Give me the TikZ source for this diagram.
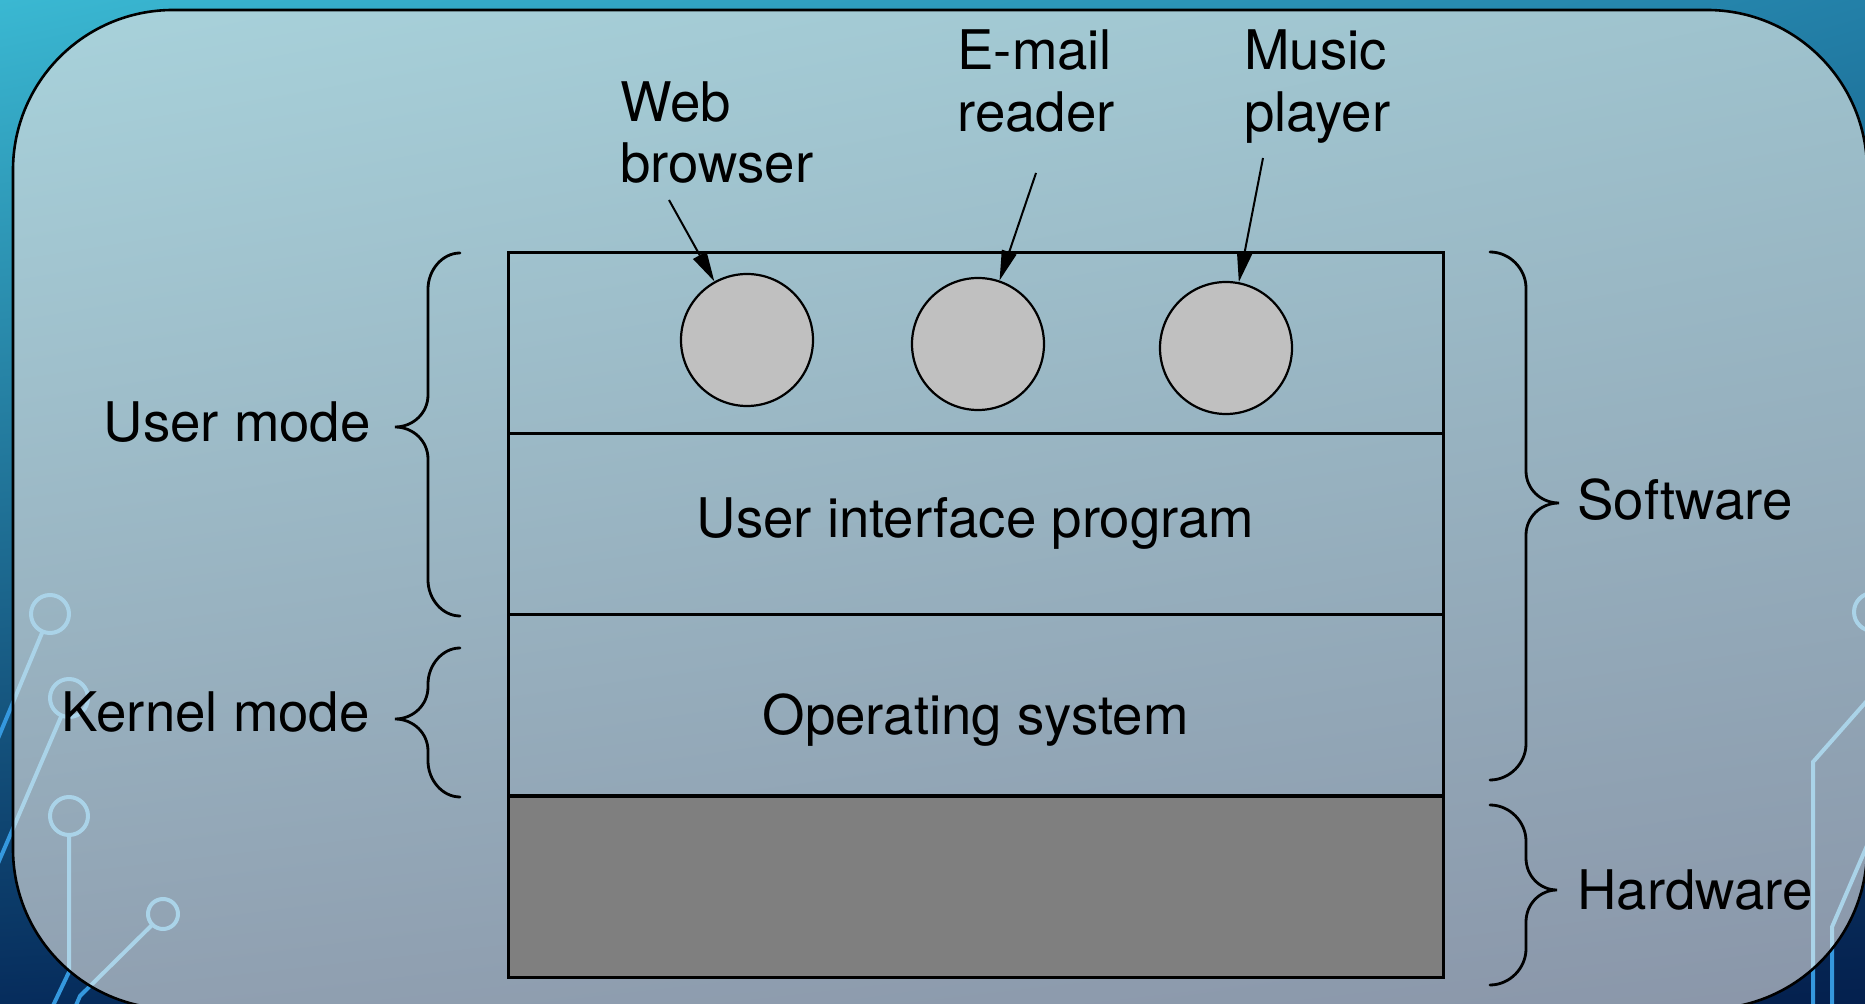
\documentclass[tikz,border=0pt]{standalone}
\usepackage{fontspec}
\setmainfont{TeX Gyre Heros}
\usetikzlibrary{arrows.meta,shadings}
\definecolor{bgTL}{HTML}{3AB8D2}
\definecolor{bgTR}{HTML}{2380A8}
\definecolor{bgBL}{HTML}{062C5C}
\definecolor{bgBR}{HTML}{04204E}
\definecolor{pnTL}{HTML}{A8D2DB}
\definecolor{pnTR}{HTML}{9EC2CD}
\definecolor{pnBL}{HTML}{90A0B1}
\definecolor{pnBR}{HTML}{8A96A9}
\definecolor{hwgray}{HTML}{7F7F7F}
\definecolor{appgray}{HTML}{C0C0C0}
\definecolor{decoblue}{HTML}{3598DE}
\definecolor{decolight}{HTML}{AAD3E8}
\newcommand\circuitdeco[1]{%
  \draw[#1] (50,614) circle[radius=9.5pt] (42.6,631.5) -- (-11,760);
  \draw[#1] (69,698) circle[radius=9.5pt] (61.6,715.5) -- (-10,882);
  \draw[#1] (69,816) circle[radius=9.5pt] (69,835) -- (69,972) -- (50,1012);
  \draw[#1] (163,914) circle[radius=7.5pt] (152,925) -- (80,996) -- (74,1010);
  \draw[#1] (1873,612) circle[radius=9.5pt];
  \draw[#1] (1880,686) -- (1813,762) -- (1813,1010);
  \draw[#1] (1875,827) -- (1832,927) -- (1832,1010);
}
% xend xbody xtip ytop ytip ybot
\newcommand\curlybrace[6]{%
  \draw[bracestyle] (#1,#4)
    .. controls ({0.45*#1+0.55*#2},#4) and (#2,#4+17) .. (#2,#4+36)
    -- (#2,#5-32)
    .. controls (#2,#5-14) and ({0.45*#3+0.55*#2},#5) .. (#3,#5)
    .. controls ({0.45*#3+0.55*#2},#5) and (#2,#5+14) .. (#2,#5+32)
    -- (#2,#6-36)
    .. controls (#2,#6-17) and ({0.45*#1+0.55*#2},#6) .. (#1,#6);
}
\begin{document}
\begin{tikzpicture}[x=0.5pt,y=-0.5pt,
  lbl/.style={font=\fontsize{27.3}{31}\selectfont, text=black, inner sep=0pt},
  layer/.style={draw=black, line width=1.5pt, minimum width=467.5pt, minimum height=90.5pt, inner sep=0pt},
  app/.style={circle, draw=black, line width=1.1pt, fill=appgray, minimum size=66pt, inner sep=0pt},
  arr/.style={line width=1pt, -{Triangle[length=15pt,width=7.5pt]}},
  bracestyle/.style={line width=1.4pt, line cap=round},
  decoout/.style={draw=decoblue, line width=2pt},
  decoin/.style={draw=decolight, line width=2pt},
  panel/.style={rounded corners=80pt}]
\useasboundingbox (0,0) rectangle (1865,1004);
\clip (0,0) rectangle (1865,1004);
% background
\shade[upper left=bgTL, upper right=bgTR, lower left=bgBL, lower right=bgBR] (0,0) rectangle (1865,1004);
\circuitdeco{decoout}
% panel
\shade[panel, upper left=pnTL, upper right=pnTR, lower left=pnBL, lower right=pnBR] (13,10) rectangle (1867,1009);
\begin{scope}
  \clip[panel] (13,10) rectangle (1867,1009);
  \circuitdeco{decoin}
\end{scope}
\draw[panel, line width=1.3pt, black] (13,10) rectangle (1867,1009);

% layers
\node[layer] (user) at (975.5,343.5) {};
\node[layer] (ui) at (975.5,524.5) {};
\node[layer] (os) at (975.5,705.5) {};
\node[layer, fill=hwgray] (hw) at (975.5,887) {};
\node[lbl, anchor=base] (uitext) at (975.5,538) {User interface program};
\node[lbl, anchor=base] (ostext) at (975.5,735) {Operating system};

% applications
\node[app] (web) at (747,340) {};
\node[app] (mail) at (978,344) {};
\node[app] (music) at (1226,348) {};

% labels
\node[lbl, anchor=base west] (web1) at (620,122) {Web};
\node[lbl, anchor=base west] (web2) at (620,183) {browser};
\node[lbl, anchor=base west] (mail1) at (957,70) {E-mail};
\node[lbl, anchor=base west] (mail2) at (957,132) {reader};
\node[lbl, anchor=base west] (music1) at (1244,70) {Music};
\node[lbl, anchor=base west] (music2) at (1244,132) {player};

\coordinate (ws) at (669,200);
\coordinate (es) at (1036,173);
\coordinate (ms) at (1263,158);
\draw[arr] (ws) -- (web);
\draw[arr] (es) -- (mail);
\draw[arr] (ms) -- (music);

% braces
\curlybrace{460}{428}{395}{253}{427}{616}
\curlybrace{460}{428}{395}{648}{719}{797}
\curlybrace{1490}{1526}{1559}{252}{503}{780}
\curlybrace{1490}{1526}{1557}{805}{890}{985}

\node[lbl, anchor=base east] (usermode) at (371,442) {User mode};
\node[lbl, anchor=base east] (kernelmode) at (370,732) {Kernel mode};
\node[lbl, anchor=base west] (software) at (1577,520) {Software};
\node[lbl, anchor=base west] (hardware) at (1577,910) {Hardware};
\end{tikzpicture}
\end{document}
